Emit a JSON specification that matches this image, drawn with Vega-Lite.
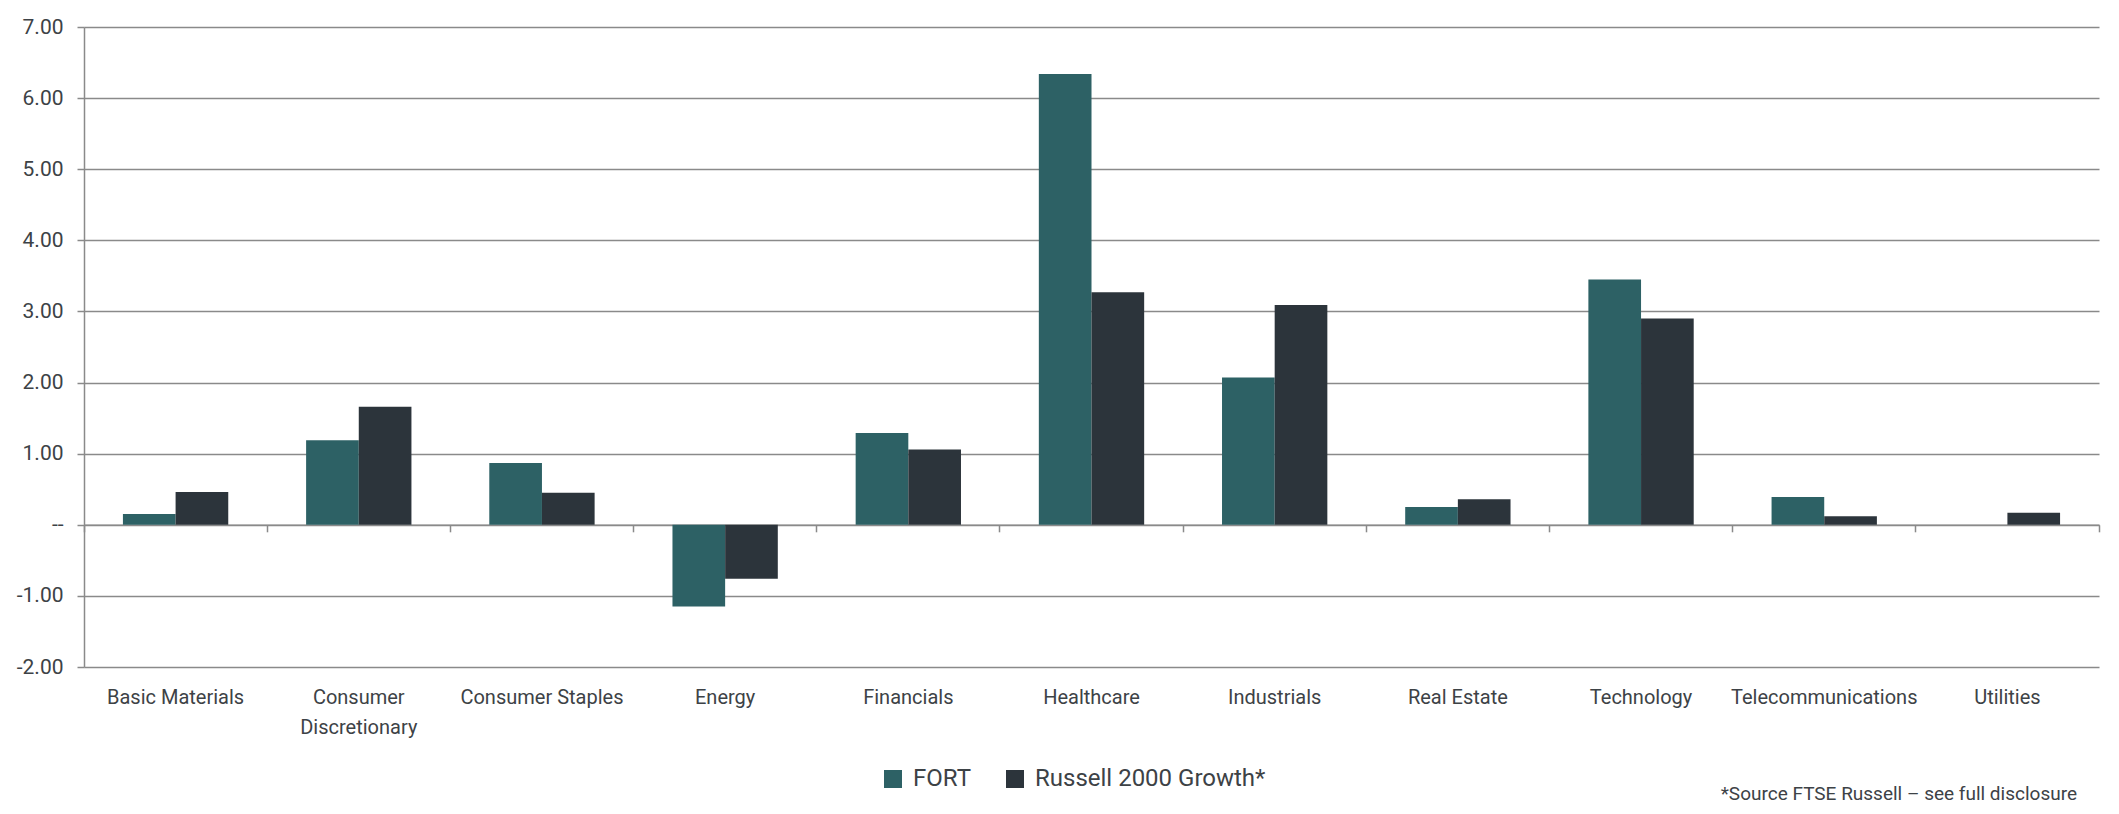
{
  "$schema": "https://vega.github.io/schema/vega-lite/v6.json",
  "width": 2015,
  "height": 640,
  "autosize": {"type": "none"},
  "padding": {"left": 84, "top": 27, "right": 20, "bottom": 147},
  "background": "white",
  "config": {
    "font": "Roboto, sans-serif",
    "view": {"stroke": null}
  },
  "title": {
    "text": "*Source FTSE Russell \u2013 see full disclosure",
    "orient": "bottom",
    "anchor": "end",
    "frame": "group",
    "fontSize": 19,
    "fontWeight": "normal",
    "color": "#3d4246",
    "dx": -22,
    "offset": -6
  },
  "data": {
    "values": [
      {"sector": "Basic Materials", "series": "FORT", "value": 0.15},
      {"sector": "Basic Materials", "series": "Russell 2000 Growth*", "value": 0.46},
      {"sector": "Consumer Discretionary", "series": "FORT", "value": 1.19},
      {"sector": "Consumer Discretionary", "series": "Russell 2000 Growth*", "value": 1.66},
      {"sector": "Consumer Staples", "series": "FORT", "value": 0.87},
      {"sector": "Consumer Staples", "series": "Russell 2000 Growth*", "value": 0.45},
      {"sector": "Energy", "series": "FORT", "value": -1.15},
      {"sector": "Energy", "series": "Russell 2000 Growth*", "value": -0.76},
      {"sector": "Financials", "series": "FORT", "value": 1.29},
      {"sector": "Financials", "series": "Russell 2000 Growth*", "value": 1.06},
      {"sector": "Healthcare", "series": "FORT", "value": 6.34},
      {"sector": "Healthcare", "series": "Russell 2000 Growth*", "value": 3.27},
      {"sector": "Industrials", "series": "FORT", "value": 2.07},
      {"sector": "Industrials", "series": "Russell 2000 Growth*", "value": 3.09},
      {"sector": "Real Estate", "series": "FORT", "value": 0.25},
      {"sector": "Real Estate", "series": "Russell 2000 Growth*", "value": 0.36},
      {"sector": "Technology", "series": "FORT", "value": 3.45},
      {"sector": "Technology", "series": "Russell 2000 Growth*", "value": 2.9},
      {"sector": "Telecommunications", "series": "FORT", "value": 0.39},
      {"sector": "Telecommunications", "series": "Russell 2000 Growth*", "value": 0.12},
      {"sector": "Utilities", "series": "FORT", "value": 0},
      {"sector": "Utilities", "series": "Russell 2000 Growth*", "value": 0.17}
    ]
  },
  "layer": [
    {
      "mark": {"type": "bar"},
      "encoding": {
        "x": {
          "field": "sector",
          "type": "nominal",
          "sort": null,
          "scale": {"paddingInner": 0.425, "paddingOuter": 0.2125},
          "axis": {
            "orient": "bottom",
            "title": null,
            "domain": false,
            "ticks": false,
            "grid": false,
            "labelAngle": 0,
            "labelFontSize": 20,
            "labelColor": "#3d4246",
            "labelPadding": 20,
            "labelBaseline": "top",
            "labelLineHeight": 30,
            "labelLimit": 400,
            "labelOverlap": false,
            "labelExpr": "datum.label == 'Consumer Discretionary' ? ['Consumer', 'Discretionary'] : datum.label"
          }
        },
        "xOffset": {
          "field": "series",
          "type": "nominal",
          "sort": ["FORT", "Russell 2000 Growth*"],
          "scale": {"paddingInner": 0, "paddingOuter": 0}
        },
        "y": {
          "field": "value",
          "type": "quantitative",
          "scale": {"domain": [-2, 7], "nice": false, "zero": true},
          "axis": {
            "title": null,
            "values": [-2, -1, 0, 1, 2, 3, 4, 5, 6, 7],
            "labelExpr": "datum.value == 0 ? '--' : (datum.value < 0 ? '-' : '') + format(abs(datum.value), '.2f')",
            "grid": true,
            "gridColor": "#8a8a8a",
            "gridWidth": 1.5,
            "domainColor": "#8a8a8a",
            "domainWidth": 1.5,
            "tickColor": "#8a8a8a",
            "tickWidth": 1.5,
            "tickSize": 7,
            "labelFontSize": 21,
            "labelPadding": 14,
            "labelColor": "#3d4246"
          }
        },
        "color": {
          "field": "series",
          "type": "nominal",
          "sort": ["FORT", "Russell 2000 Growth*"],
          "scale": {"domain": ["FORT", "Russell 2000 Growth*"], "range": ["#2d6165", "#2c343b"]},
          "legend": {
            "title": null,
            "orient": "none",
            "legendX": 797,
            "legendY": 740,
            "direction": "horizontal",
            "symbolType": "square",
            "symbolSize": 324,
            "symbolStrokeWidth": 0,
            "labelFontSize": 24,
            "labelColor": "#3d4246",
            "labelOffset": 8,
            "columnPadding": 32,
            "labelLimit": 400
          }
        }
      }
    },
    {
      "mark": {"type": "bar", "opacity": 0},
      "encoding": {
        "x": {
          "field": "sector",
          "type": "nominal",
          "sort": null,
          "scale": {"paddingInner": 0, "paddingOuter": 0},
          "axis": {
            "orient": "bottom",
            "offset": -142.2,
            "title": null,
            "labels": false,
            "grid": false,
            "domain": true,
            "domainColor": "#8a8a8a",
            "domainWidth": 1.5,
            "ticks": true,
            "tickColor": "#8a8a8a",
            "tickWidth": 1.5,
            "tickSize": 7,
            "bandPosition": 1,
            "tickExtra": true
          }
        },
        "y": {"datum": 0, "type": "quantitative"}
      }
    }
  ],
  "resolve": {"scale": {"x": "independent"}, "axis": {"x": "independent"}}
}
